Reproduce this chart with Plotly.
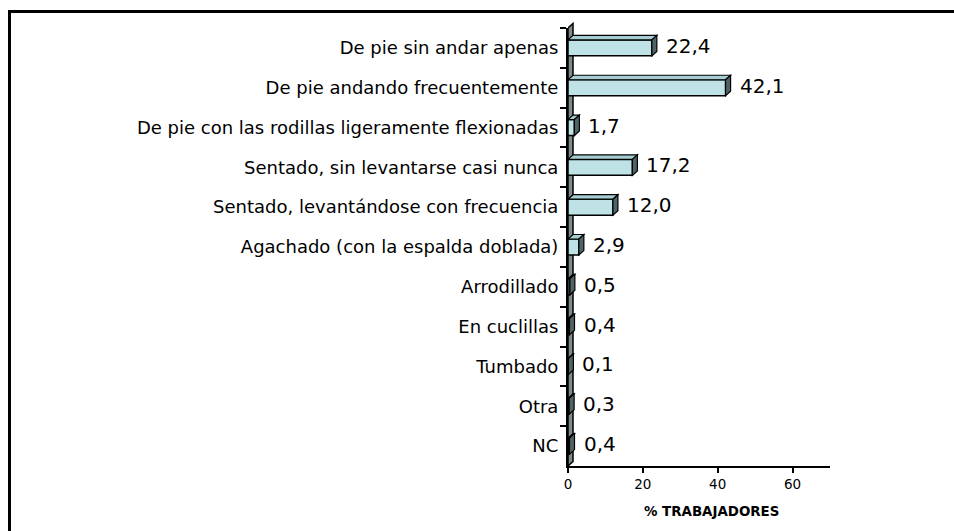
import plotly.graph_objects as go

categories = [
    "De pie sin andar apenas",
    "De pie andando frecuentemente",
    "De pie con las rodillas ligeramente flexionadas",
    "Sentado, sin levantarse casi nunca",
    "Sentado, levantándose con frecuencia",
    "Agachado (con la espalda doblada)",
    "Arrodillado",
    "En cuclillas",
    "Tumbado",
    "Otra",
    "NC",
]
values = [22.4, 42.1, 1.7, 17.2, 12.0, 2.9, 0.5, 0.4, 0.1, 0.3, 0.4]
value_labels = [f"{v:.1f}".replace(".", ",") for v in values]
x_ticks = [0, 20, 40, 60]
x_title = "% TRABAJADORES"

W, H = 954, 531
ML, MR, MT, MB = 568, 124, 28, 65
XMAX = 70
plot_w = W - ML - MR
plot_h = H - MT - MB
px_per_unit = plot_w / XMAX
DEPTH_X = 5.0            # pixels
DEPTH_Y = 4.5            # pixels
dx = DEPTH_X / px_per_unit
HALF = 8                 # half bar height in px

FRONT = "#BEE2E5"
TOP = "#A6CED2"
SIDE = "#4E6567"
FONT = "DejaVu Sans, Verdana, sans-serif"

fig = go.Figure()
fig.add_trace(go.Bar(
    y=categories, x=values, orientation="h", width=0.4,
    marker=dict(color=FRONT, line=dict(color="black", width=1.5)),
    hoverinfo="skip",
))

shapes = []
# left wall (3D depth of the category axis)
dyp = DEPTH_Y / plot_h
shapes.append(dict(type="path", xref="x", yref="paper", layer="below",
                   path=f"M 0,0 L 0,1 L {dx},{1+dyp} L {dx},{dyp} Z",
                   fillcolor="#7E8A8B", line=dict(color="black", width=1.5)))
for i, v in enumerate(values):
    # top face
    shapes.append(dict(type="path", xref="x", yref="y", ysizemode="pixel", yanchor=i,
                       layer="above",
                       path=f"M 0,{HALF} L {dx},{HALF+DEPTH_Y} L {v+dx},{HALF+DEPTH_Y} L {v},{HALF} Z",
                       fillcolor=TOP, line=dict(color="black", width=1.2)))
    # right face
    shapes.append(dict(type="path", xref="x", yref="y", ysizemode="pixel", yanchor=i,
                       layer="above",
                       path=f"M {v},{HALF} L {v+dx},{HALF+DEPTH_Y} L {v+dx},{-HALF+DEPTH_Y} L {v},{-HALF} Z",
                       fillcolor=SIDE, line=dict(color="black", width=1.2)))

# outer frame: only its top and left edges fall inside the picture
fx0 = (9.5 - ML) / plot_w
fx1 = (W - ML) / plot_w
fy1 = (H - MB - 11.5) / plot_h
fy0 = (H - MB - H) / plot_h
shapes.append(dict(type="line", xref="paper", yref="paper", x0=fx0 - 1.5 / plot_w, x1=fx1,
                   y0=fy1, y1=fy1, line=dict(color="black", width=3), layer="above"))
shapes.append(dict(type="line", xref="paper", yref="paper", x0=fx0, x1=fx0,
                   y0=fy1, y1=fy0, line=dict(color="black", width=3), layer="above"))

annotations = []
for i, (v, t) in enumerate(zip(values, value_labels)):
    annotations.append(dict(x=v, y=categories[i], xref="x", yref="y", text=t,
                            showarrow=False, xanchor="left", yanchor="middle",
                            xshift=12, yshift=2,
                            font=dict(family=FONT, size=20, color="black")))
annotations.append(dict(x=38.4, y=0, xref="x", yref="paper", text=f"<b>{x_title}</b>",
                        showarrow=False, xanchor="center", yanchor="middle", yshift=-45,
                        font=dict(family=FONT, size=13.4, color="black")))

fig.update_layout(
    width=W, height=H,
    margin=dict(l=ML, r=MR, t=MT, b=MB, pad=0),
    paper_bgcolor="white", plot_bgcolor="white",
    showlegend=False,
    shapes=shapes, annotations=annotations,
    xaxis=dict(range=[0, XMAX], tickvals=x_ticks, ticks="outside", ticklen=5,
               tickcolor="black", tickwidth=1.5, showline=True, linecolor="black",
               linewidth=2, showgrid=False, zeroline=False,
               tickfont=dict(family=FONT, size=13.5, color="black")),
    yaxis=dict(type="category", categoryorder="array", categoryarray=categories,
               range=[len(categories) - 0.5, -0.5], tickson="boundaries",
               ticks="outside", ticklen=6, tickcolor="black", tickwidth=1.5,
               ticklabelstandoff=4,
               showline=True, linecolor="black", linewidth=2, showgrid=False,
               zeroline=False,
               tickfont=dict(family=FONT, size=18, color="black")),
)

fig.write_html("out.html", config={"displayModeBar": False},
               post_script="document.body.style.margin='0';document.body.style.overflow='hidden';"
                           "document.documentElement.style.overflow='hidden';")
